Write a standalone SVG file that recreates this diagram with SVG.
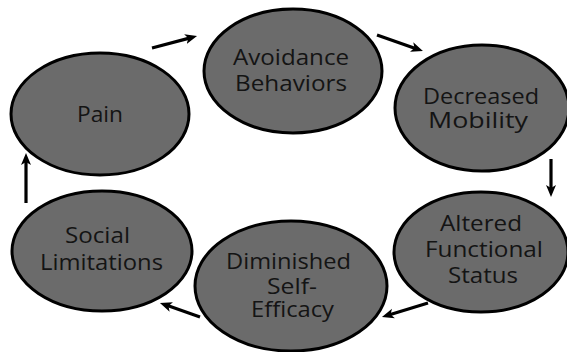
<svg xmlns="http://www.w3.org/2000/svg" width="567" height="352" viewBox="0 0 567 352">
<style>
.node ellipse{fill:#6b6b6b;stroke:#000;stroke-width:3}
.node text{font-family:"Open Sans","Liberation Sans",sans-serif;font-size:22px;fill:#141414;text-anchor:middle}
.conn line{stroke:#000;stroke-width:3.2;marker-end:url(#ah)}
</style>
<defs>
<marker id="ah" viewBox="0 0 12 12" markerWidth="12" markerHeight="12" markerUnits="userSpaceOnUse" refX="4" refY="6" orient="auto">
<path d="M0,1 L12,6 L0,11 L3,6 z" fill="#000"/>
</marker>
</defs>
<rect width="567" height="352" fill="#fff"/>
<g class="conn">
<line x1="152" y1="48" x2="189.3" y2="38.1"/>
<line x1="377" y1="35" x2="415.4" y2="48.4"/>
<line x1="551" y1="159" x2="551" y2="189"/>
<line x1="428" y1="303" x2="389.6" y2="314.7"/>
<line x1="200" y1="317" x2="167.5" y2="305.6"/>
<line x1="26" y1="203" x2="26" y2="161"/>
</g>
<g id="pain" class="node">
<ellipse cx="100" cy="114" rx="89" ry="61"/>
<text x="100" y="122" textLength="46" lengthAdjust="spacingAndGlyphs">Pain</text>
</g>
<g id="avoidance" class="node">
<ellipse cx="293" cy="71" rx="89" ry="62"/>
<text x="291" y="65" textLength="116" lengthAdjust="spacingAndGlyphs">Avoidance</text>
<text x="291" y="91" textLength="112" lengthAdjust="spacingAndGlyphs">Behaviors</text>
</g>
<g id="decreased" class="node">
<ellipse cx="482" cy="108" rx="87" ry="63"/>
<text x="481" y="104" textLength="116" lengthAdjust="spacingAndGlyphs">Decreased</text>
<text x="478" y="128" textLength="100" lengthAdjust="spacingAndGlyphs">Mobility</text>
</g>
<g id="altered" class="node">
<ellipse cx="481" cy="252" rx="87" ry="60"/>
<text x="481" y="231" textLength="82" lengthAdjust="spacingAndGlyphs">Altered</text>
<text x="484" y="257" textLength="118" lengthAdjust="spacingAndGlyphs">Functional</text>
<text x="483" y="283" textLength="70" lengthAdjust="spacingAndGlyphs">Status</text>
</g>
<g id="diminished" class="node">
<ellipse cx="291" cy="286" rx="96" ry="65"/>
<text x="288.5" y="269" textLength="125" lengthAdjust="spacingAndGlyphs">Diminished</text>
<text x="292" y="294" textLength="50" lengthAdjust="spacingAndGlyphs">Self-</text>
<text x="292.5" y="317" textLength="83" lengthAdjust="spacingAndGlyphs">Efficacy</text>
</g>
<g id="social" class="node">
<ellipse cx="102" cy="251" rx="90" ry="60"/>
<text x="97.5" y="243" textLength="65" lengthAdjust="spacingAndGlyphs">Social</text>
<text x="101.5" y="270" textLength="123" lengthAdjust="spacingAndGlyphs">Limitations</text>
</g>
</svg>
